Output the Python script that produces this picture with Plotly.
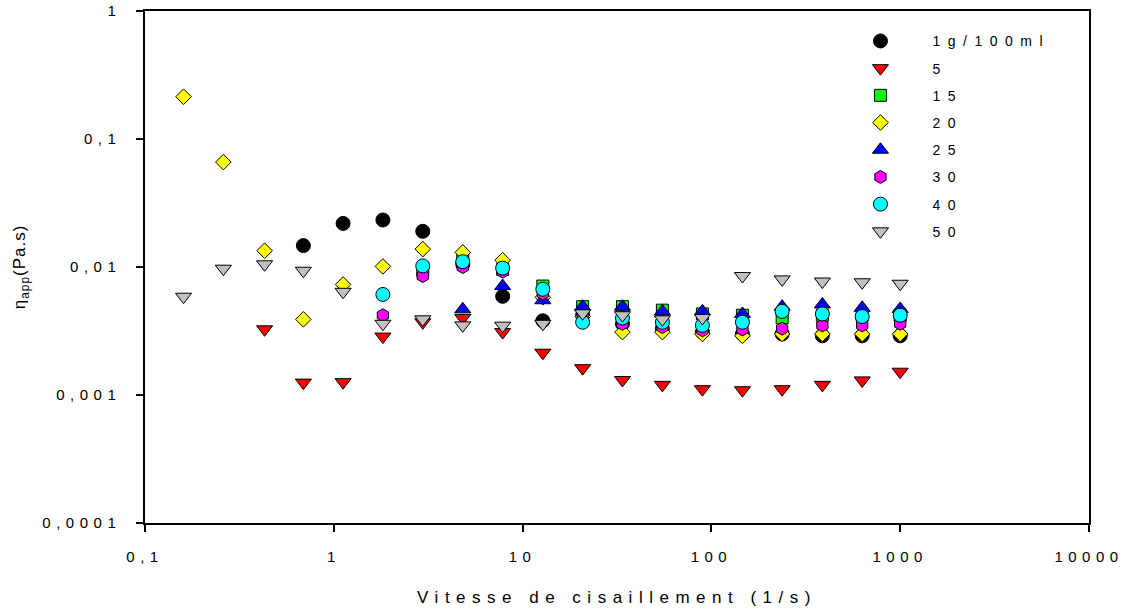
import plotly.graph_objects as go

# Shear rates (1/s)
shear_rate = [0.16, 0.26, 0.43, 0.69, 1.12, 1.82, 2.96, 4.82, 7.84, 12.8,
              20.8, 33.8, 55.0, 89.6, 146, 237, 387, 629, 1000]

# Apparent viscosity (Pa.s) per concentration; None where no measurement
eta_1 = [None, None, None, 0.0147, 0.0219, 0.0233, 0.0190, 0.0105, 0.0059, 0.0038,
         0.0042, 0.0036, 0.0033, 0.0031, 0.0030, 0.0030, 0.0029, 0.0029, 0.0029]
eta_5 = [None, None, 0.00326, 0.00125, 0.00126, 0.00286, 0.0037, 0.0040, 0.0031, 0.00214,
         0.00162, 0.00131, 0.00120, 0.00111, 0.00109, 0.00111, 0.00120, 0.00130, 0.00152]
eta_15 = [None, None, None, None, None, None, 0.0094, 0.0117, 0.0096, 0.0071,
          0.0049, 0.0049, 0.0046, 0.0043, 0.0042, 0.0040, 0.0042, 0.0042, 0.0042]
eta_20 = [0.214, 0.066, 0.0134, 0.0039, 0.0073, 0.0101, 0.0138, 0.0130, 0.0113, 0.0058,
          0.0041, 0.0031, 0.0031, 0.0030, 0.0029, 0.0030, 0.0030, 0.0030, 0.0030]
eta_25 = [None, None, None, None, None, None, None, 0.00467, 0.0071, 0.0055,
          0.0049, 0.0049, 0.0045, 0.0045, 0.0043, 0.0049, 0.0051, 0.0048, 0.0047]
eta_30 = [None, None, None, None, None, 0.0042, 0.0085, 0.0100, 0.0092, 0.0062,
          0.0041, 0.0036, 0.0034, 0.0032, 0.00325, 0.0033, 0.0035, 0.0035, 0.0036]
eta_40 = [None, None, None, None, None, 0.0061, 0.0102, 0.0110, 0.0098, 0.0067,
          0.0037, 0.0040, 0.0037, 0.0035, 0.0037, 0.0045, 0.0043, 0.0041, 0.0042]
eta_50 = [0.00586, 0.0097, 0.0105, 0.00935, 0.0064, 0.0036, 0.0039, 0.0035, 0.00348, 0.0036,
          0.00435, 0.0042, 0.0039, 0.0040, 0.0085, 0.0080, 0.0077, 0.0076, 0.0074]

series_names = ["1g/100ml", "5", "15", "20", "25", "30", "40", "50"]
series_values = [eta_1, eta_5, eta_15, eta_20, eta_25, eta_30, eta_40, eta_50]
series_symbols = ["circle", "triangle-down", "square", "diamond",
                  "triangle-up", "hexagon", "circle", "triangle-down"]
series_colors = ["#000000", "#ff0000", "#00ff00", "#ffff00",
                 "#0000ff", "#ff00ff", "#00ffff", "#c0c0c0"]
series_sizes = [14, 14, 12, 12, 14, 13, 14, 14]

x_tickvals = [0.1, 1, 10, 100, 1000, 10000]
x_ticktext = ["0,1", "1", "10", "100", "1000", "10000"]
y_tickvals = [0.0001, 0.001, 0.01, 0.1, 1]
y_ticktext = ["0,0001", "0,001", "0,01", "0,1", "1"]

FONT = "Liberation Sans, Arial, sans-serif"


def spaced(text, px):
    """Wrap text in a span with extra tracking between characters."""
    return f'<span style="letter-spacing:{px}px">{text}</span>'


fig = go.Figure()
for i, (name, vals, sym, col, sz) in enumerate(
        zip(series_names, series_values, series_symbols, series_colors, series_sizes)):
    fig.add_trace(go.Scatter(
        x=shear_rate, y=vals, mode="markers", name=spaced(name, 7.5),
        legendgroup=f"g{i}",
        marker=dict(symbol=sym, size=sz, color=col,
                    line=dict(color="#000000", width=1)),
        cliponaxis=False,
    ))

axis_common = dict(
    showgrid=False, zeroline=False, showline=True, linecolor="#000000",
    linewidth=1.5, mirror=True, ticks="outside", ticklen=7, tickwidth=1.5,
    tickcolor="#000000", tickfont=dict(family=FONT, size=15, color="#000000"),
    automargin=False,
)

fig.update_layout(
    width=1129, height=609,
    margin=dict(l=145, r=40, t=11, b=86),
    paper_bgcolor="#ffffff", plot_bgcolor="#ffffff",
    font=dict(family=FONT, size=15, color="#000000"),
    showlegend=True,
    legend=dict(x=0.724, y=0.972, xanchor="left", yanchor="top",
                bgcolor="rgba(0,0,0,0)", borderwidth=0,
                font=dict(family=FONT, size=14, color="#000000"),
                traceorder="grouped", tracegroupgap=6, itemwidth=94),
    xaxis=dict(type="log", range=[-1, 4],
               tickvals=x_tickvals, ticktext=[spaced(t, 5.5) for t in x_ticktext],
               ticklabelstandoff=12,
               title=dict(text=spaced("Vitesse de cisaillement (1/s)", 6.5),
                          font=dict(family=FONT, size=17), standoff=27),
               **axis_common),
    yaxis=dict(type="log", range=[-4, 0],
               tickvals=y_tickvals, ticktext=[spaced(t, 5.5) for t in y_ticktext],
               ticklabelstandoff=12,
               title=dict(text=spaced("η<sub>app</sub>(Pa.s)", 1),
                          font=dict(family=FONT, size=17), standoff=12),
               **axis_common),
)

fig.write_html("out.html")
